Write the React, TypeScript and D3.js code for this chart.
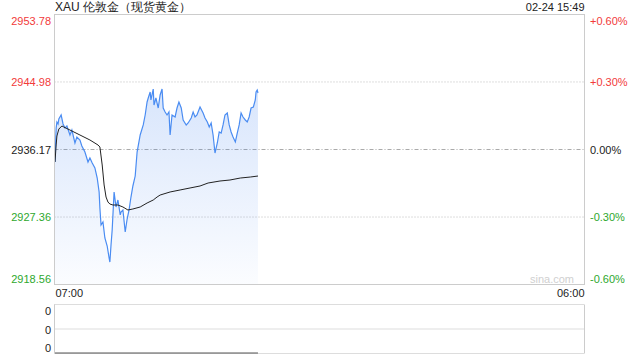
import React from "react";
import * as d3 from "d3";

// ---- data ----
const title = "XAU 伦敦金（现货黄金）";
const stamp = "02-24 15:49";
const priceTicks = [2953.78, 2944.98, 2936.17, 2927.36, 2918.56];
const pctTicks = ["+0.60%", "+0.30%", "0.00%", "-0.30%", "-0.60%"];
const timeLabels = ["07:00", "06:00"];
const volTicks = ["0", "0", "0"];

// minutes since 07:00
const priceMinutes = [0, 3, 5, 8, 10, 16, 21, 26, 31, 39, 44, 52, 57, 65, 70, 78, 86, 91, 97, 104, 110, 115, 117, 120, 125, 130, 136, 141, 143, 146, 149, 154, 159, 164, 170, 172, 177, 183, 188, 193, 198, 203, 209, 214, 222, 230, 235, 240, 243, 248, 250, 256, 258, 263, 269, 274, 279, 282, 287, 292, 297, 300, 305, 313, 318, 323, 329, 334, 342, 347, 355, 360, 365, 370, 378, 386, 391, 397, 402, 407, 412, 417, 423, 428, 433, 438, 443, 449, 454, 459, 464, 470, 475, 480, 485, 490, 496, 501, 506, 511, 517, 522, 524, 527, 529];
const priceValues = [2934.54, 2938.97, 2939.76, 2939.5, 2940.15, 2940.67, 2939.5, 2938.97, 2939.24, 2938.06, 2938.71, 2937.02, 2937.8, 2937.41, 2936.63, 2935.84, 2934.54, 2935.06, 2934.41, 2933.76, 2932.45, 2930.63, 2928.54, 2926.32, 2926.71, 2924.63, 2923.58, 2922.02, 2921.49, 2923.71, 2925.67, 2930.63, 2928.67, 2929.58, 2927.63, 2928.02, 2928.28, 2925.41, 2927.1, 2928.28, 2929.97, 2931.41, 2932.71, 2935.84, 2938.06, 2939.37, 2940.67, 2942.37, 2942.89, 2943.67, 2942.63, 2944.06, 2941.97, 2942.89, 2941.58, 2943.28, 2944.06, 2941.58, 2941.06, 2940.67, 2941.06, 2938.06, 2940.67, 2940.41, 2941.58, 2942.37, 2941.58, 2940.02, 2939.37, 2939.63, 2940.28, 2941.06, 2940.41, 2940.67, 2941.71, 2940.93, 2940.28, 2939.76, 2939.1, 2939.63, 2938.06, 2935.71, 2937.02, 2938.45, 2938.32, 2939.37, 2940.67, 2940.93, 2939.37, 2938.45, 2937.8, 2937.15, 2938.32, 2939.37, 2940.93, 2940.41, 2940.02, 2939.76, 2940.41, 2941.58, 2941.71, 2942.63, 2943.67, 2943.93, 2943.54];

const avgMinutes = [0, 3, 5, 10, 18, 23, 39, 65, 91, 112, 117, 123, 128, 133, 138, 143, 151, 164, 177, 190, 203, 222, 240, 256, 266, 274, 300, 326, 352, 378, 399, 430, 456, 483, 509, 529];
const avgValues = [2934.54, 2936.76, 2937.93, 2938.84, 2939.24, 2939.1, 2938.71, 2938.06, 2937.41, 2936.76, 2936.5, 2934.15, 2931.54, 2929.97, 2929.32, 2929.06, 2928.93, 2928.93, 2928.67, 2928.28, 2928.41, 2928.67, 2929.19, 2929.58, 2929.97, 2930.23, 2930.63, 2930.89, 2931.15, 2931.41, 2931.8, 2932.06, 2932.19, 2932.45, 2932.58, 2932.71];

const volMinutes = [0, 529];
const volValues = [0, 0];

const SESSION_MINUTES = 1380;

export default function App() {
  const W = 640, H = 360;
  const L = 54.5, R = 584.5, T = 14.5, B = 284.5;
  const vT = 304.5, vB = 353.5;

  const x = d3.scaleLinear().domain([0, SESSION_MINUTES]).range([L + 0.5, R]);
  const y = d3.scaleLinear().domain([priceTicks[4], priceTicks[0]]).range([B, T]);
  const yv = d3.scaleLinear().domain([0, 1]).range([vB - 0.5, vT]);

  const pts = priceMinutes.map((m, i) => [m, priceValues[i]] as [number, number]);
  const avg = avgMinutes.map((m, i) => [m, avgValues[i]] as [number, number]);
  const vol = volMinutes.map((m, i) => [m, volValues[i]] as [number, number]);

  const line = d3.line<[number, number]>().x((d) => x(d[0])).y((d) => y(d[1]));
  const area = d3.area<[number, number]>().x((d) => x(d[0])).y0(B).y1((d) => y(d[1]));
  const vline = d3.line<[number, number]>().x((d) => x(d[0])).y((d) => yv(d[1]));

  const font = "Arial, 'Liberation Sans', Helvetica, sans-serif";
  const tickColor = (i: number) => (i < 2 ? "#f23a3a" : i === 2 ? "#222" : "#2ea82e");

  const labelY = (i: number) => {
    const yy = y(priceTicks[i]);
    if (i === 0) return yy + 6;
    if (i === priceTicks.length - 1) return yy - 6;
    return yy;
  };

  return (
    <svg width={W} height={H} style={{ position: "absolute", left: 0, top: 0 }} fontFamily={font}>
      <rect width={W} height={H} fill="#fff" />
      <defs>
        <linearGradient id="fillg" x1="0" y1="0" x2="0" y2="1">
          <stop offset="0%" stopColor="#3d7ff0" stopOpacity={0.2} />
          <stop offset="100%" stopColor="#3d7ff0" stopOpacity={0.02} />
        </linearGradient>
      </defs>

      {/* header */}
      <text x={L + 0.5} y={7} dominantBaseline="central" fontSize={12} fill="#222">{title}</text>
      <text x={R} y={7} dominantBaseline="central" textAnchor="end" fontSize={11} fill="#222">{stamp}</text>

      {/* grid lines */}
      {priceTicks.map((p, i) =>
        i === 1 || i === 3 ? (
          <line key={i} x1={L} x2={R} y1={y(p)} y2={y(p)} stroke="#bbb" strokeDasharray="1,2" />
        ) : i === 2 ? (
          <line key={i} x1={L} x2={R} y1={y(p)} y2={y(p)} stroke="#aaa" strokeDasharray="4,2,1,2" />
        ) : null
      )}

      {/* area and lines */}
      <path d={area(pts) || ""} fill="url(#fillg)" />
      <path d={line(pts) || ""} fill="none" stroke="#4a8cf2" strokeWidth={1.2} />
      <path d={line(avg) || ""} fill="none" stroke="#222" strokeWidth={1} />

      {/* main frame */}
      <rect x={L} y={T} width={R - L} height={B - T} fill="none" stroke="#ccc" />

      {/* price labels */}
      {priceTicks.map((p, i) => (
        <text key={"p" + i} x={51} y={labelY(i)} dominantBaseline="central" textAnchor="end" fontSize={11} fill={tickColor(i)}>
          {p.toFixed(2)}
        </text>
      ))}
      {pctTicks.map((t, i) => (
        <text key={"c" + i} x={590} y={labelY(i)} dominantBaseline="central" fontSize={11} fill={tickColor(i)}>
          {t}
        </text>
      ))}

      {/* watermark */}
      <text x={574} y={279} dominantBaseline="central" textAnchor="end" fontSize={11} fill="#d0d0d0">sina.com</text>

      {/* time labels */}
      <text x={L + 1} y={293} dominantBaseline="central" fontSize={11} fill="#222">{timeLabels[0]}</text>
      <text x={R} y={293} dominantBaseline="central" textAnchor="end" fontSize={11} fill="#222">{timeLabels[1]}</text>

      {/* volume panel */}
      <line x1={L} x2={R} y1={vT} y2={vT} stroke="#bbb" strokeDasharray="1,1" />
      <line x1={L} x2={R} y1={(vT + vB) / 2} y2={(vT + vB) / 2} stroke="#bbb" strokeDasharray="1,1" />
      <line x1={L} x2={R} y1={vB} y2={vB} stroke="#bbb" strokeDasharray="1,1" />
      <line x1={L} x2={L} y1={vT} y2={vB} stroke="#ccc" />
      <line x1={R} x2={R} y1={vT} y2={vB} stroke="#ccc" />
      <path d={vline(vol) || ""} fill="none" stroke="#555" strokeWidth={1} />
      {volTicks.map((t, i) => (
        <text key={"v" + i} x={51} y={[310.5, 330, 348][i]} dominantBaseline="central" textAnchor="end" fontSize={11} fill="#222">
          {t}
        </text>
      ))}
    </svg>
  );
}
